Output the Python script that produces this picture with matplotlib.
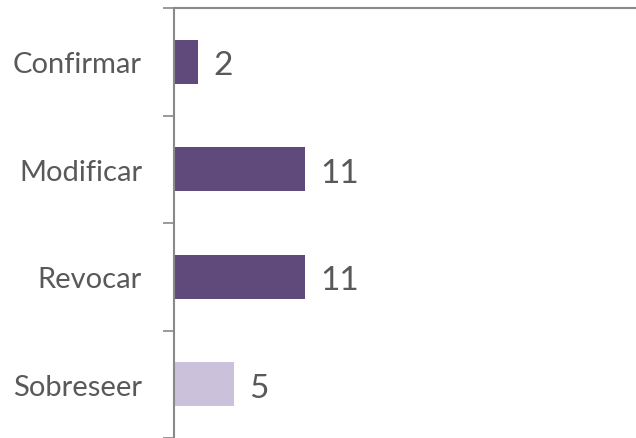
import numpy as np
import matplotlib.pyplot as plt

categorias = ["Confirmar", "Modificar", "Revocar", "Sobreseer"]
valores = [2, 11, 11, 5]
colores = ["#604A7B", "#604A7B", "#604A7B", "#CCC1DA"]

plt.rcParams['font.family'] = ['Lato', 'DejaVu Sans']
gris = "#595959"

fig = plt.figure(figsize=(6.36, 4.39), dpi=100)
ax = fig.add_axes([174/636, 0, 1 - 174/636, 430/439])

y = np.arange(len(categorias))
ax.barh(y, valores, height=0.41, color=colores)
ax.set_ylim(len(categorias) - 0.5, -0.5)
ax.set_xlim(0, 38.8)

# etiquetas de valor a la derecha de cada barra
for yi, v in zip(y, valores):
    ax.annotate(str(v), (v, yi), xytext=(11, -2.5), textcoords='offset points',
                va='center', ha='left', fontsize=24, color=gris)

ax.set_yticks(np.arange(-0.5, len(categorias), 1.0))
ax.set_yticks(y, minor=True)
ax.set_yticklabels([])
ax.set_yticklabels(categorias, minor=True)
ax.tick_params(axis='y', which='major', length=8, width=1.2, color="#898989", direction='out')
ax.tick_params(axis='y', which='minor', length=0, pad=23, labelsize=21, labelcolor=gris)
ax.set_xticks([])

for s in ['right', 'bottom']:
    ax.spines[s].set_visible(False)
for s in ['left', 'top']:
    ax.spines[s].set_color("#898989")
    ax.spines[s].set_linewidth(1.5)

fig.savefig("out.png", dpi=100)
